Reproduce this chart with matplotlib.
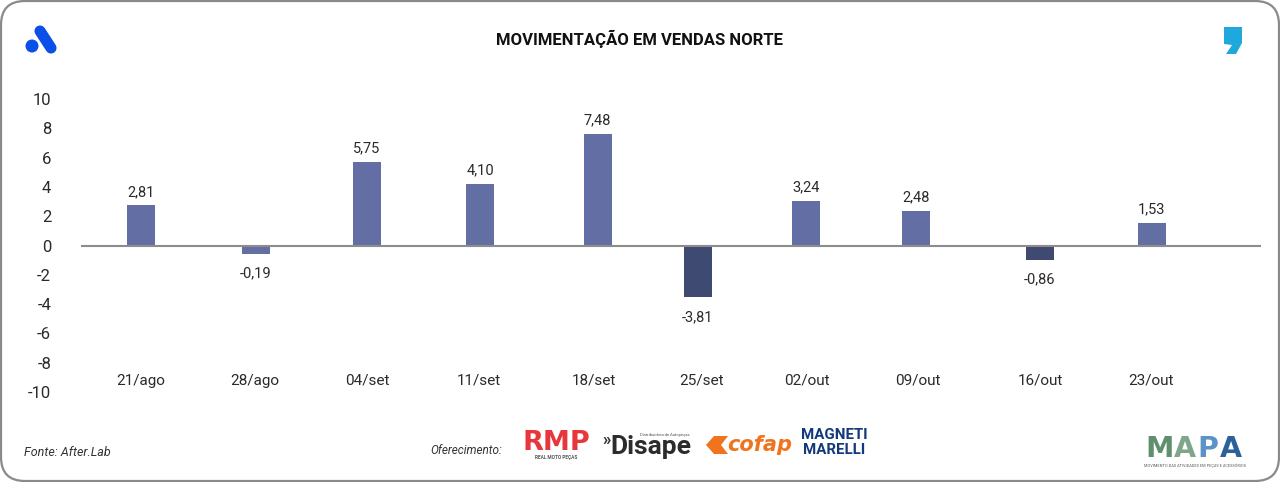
import matplotlib
matplotlib.use("Agg")
import matplotlib.pyplot as plt
from matplotlib.patches import FancyBboxPatch, Circle, Polygon

plt.rcParams['font.family'] = ['Roboto', 'DejaVu Sans']

# ---- data -------------------------------------------------------------
categories = ['21/ago', '28/ago', '04/set', '11/set', '18/set',
              '25/set', '02/out', '09/out', '16/out', '23/out']
bar_heights = [2.74, -0.55, 5.72, 4.22, 7.62, -3.50, 3.05, 2.37, -0.96, 1.55]
value_labels = ['2,81', '-0,19', '5,75', '4,10', '7,48',
                '-3,81', '3,24', '2,48', '-0,86', '1,53']
bar_centers = [141, 256, 367, 480, 597.5, 697.5, 806, 916, 1040, 1151.5]
tick_centers = [141, 255, 367, 479, 594, 702, 807, 918, 1040, 1151]
y_ticks = [10, 8, 6, 4, 2, 0, -2, -4, -6, -8, -10]
dark_bars = ['25/set', '16/out']

W, H = 1280, 482
TEXT = '#2a2a2a'
fig = plt.figure(figsize=(W / 100, H / 100), dpi=100, facecolor='white')

# overlay in pixel coordinates for frame, logos and captions
bg = fig.add_axes([0, 0, 1, 1])
bg.set_xlim(0, W)
bg.set_ylim(H, 0)
bg.axis('off')
bg.add_patch(FancyBboxPatch((1, 1), W - 2, H - 2,
                            boxstyle='round,pad=0,rounding_size=24',
                            fc='white', ec='#8a8a8e', lw=1.6))

# main chart
L, R, T, B = 81, 1261, 99, 392
ax = fig.add_axes([L / W, 1 - B / H, (R - L) / W, (B - T) / H])
ax.patch.set_alpha(0)
ax.set_xlim(L, R)
ax.set_ylim(-10, 10)
for s in ax.spines.values():
    s.set_visible(False)

colors = ['#3f4a72' if c in dark_bars else '#636fa4' for c in categories]
ax.bar(bar_centers, bar_heights, width=28, color=colors, zorder=2)
ax.axhline(0, color='#8c8c8c', lw=1.5, zorder=3)

ax.set_yticks(y_ticks)
ax.set_yticklabels([str(v) for v in y_ticks])
ax.set_xticks(tick_centers)
ax.set_xticklabels(categories)
ax.tick_params(axis='y', length=0, pad=21.5, labelsize=12, labelcolor=TEXT)
ax.tick_params(axis='x', length=0, pad=-13, labelsize=11, labelcolor=TEXT)

for x, h, lab in zip(bar_centers, bar_heights, value_labels):
    off = 4.5 if h >= 0 else -9.5
    ax.annotate(lab, (x, h), xytext=(0, off), textcoords='offset points',
                ha='center', va='bottom' if h >= 0 else 'top',
                fontsize=10.5, color=TEXT)

# title and captions
bg.text(640, 39, 'MOVIMENTAÇÃO EM VENDAS NORTE', ha='center', va='center',
        fontsize=12, fontweight='bold', color='#111111')
bg.text(24, 452, 'Fonte: After.Lab', ha='left', va='center',
        fontsize=9, style='italic', color='#333333')
bg.text(430, 451, 'Oferecimento:', ha='left', va='center',
        fontsize=8.5, style='italic', color='#333333')

# left logo
bg.plot([40, 51], [31, 48], color='#0a4fe8', lw=8, solid_capstyle='round')
bg.add_patch(Circle((32, 46), 6.5, fc='#0a4fe8', ec='none'))

# right logo
bg.add_patch(Polygon([(1224, 27), (1242, 27), (1242, 43), (1236, 54),
                      (1226, 54), (1232, 45), (1224, 44)],
                     fc='#1fa8dc', ec='none'))

# sponsor logos as text
bg.text(556, 443, 'RMP', ha='center', va='center', fontsize=19.5,
        fontweight='bold', color='#e8363d', family='DejaVu Sans')
bg.text(556, 458, 'REAL MOTO PEÇAS', ha='center', va='center', fontsize=3.4,
        fontweight='bold', color='#555555')
bg.text(602, 441, '»', ha='left', va='center', fontsize=12,
        fontweight='bold', color='#2c2c2c')
bg.text(651, 447, 'Disape', ha='center', va='center', fontsize=19,
        fontweight='bold', color='#2c2c2c')
bg.text(665, 435, 'Distribuidora de Autopeças', ha='center', va='center',
        fontsize=3, color='#555555')
bg.add_patch(Polygon([(706, 445), (714, 436), (728, 436), (721, 445),
                     (728, 454), (714, 454)], fc='#f0741e', ec='none'))
bg.text(760, 445, 'cofap', ha='center', va='center', fontsize=15,
        fontweight='bold', style='italic', color='#f0741e', family='DejaVu Sans')
bg.text(834, 435, 'MAGNETI', ha='center', va='center', fontsize=10.8,
        fontweight='bold', color='#14397a')
bg.text(834, 450, 'MARELLI', ha='center', va='center', fontsize=10.8,
        fontweight='bold', color='#14397a')

# MAPA logo
for x, ch, col in zip([1160, 1185, 1208, 1231], 'MAPA',
                      ['#5f8f6c', '#7fa58a', '#5b93c8', '#2d5f9a']):
    bg.text(x, 449, ch, ha='center', va='center', fontsize=20.5,
            fontweight='bold', color=col, family='DejaVu Sans')
bg.text(1195, 465.5, 'MOVIMENTO DAS ATIVIDADES EM PEÇAS E ACESSÓRIOS', ha='center',
        va='center', fontsize=2.8, color='#555555')

fig.savefig('out.png', dpi=100, facecolor='white')
